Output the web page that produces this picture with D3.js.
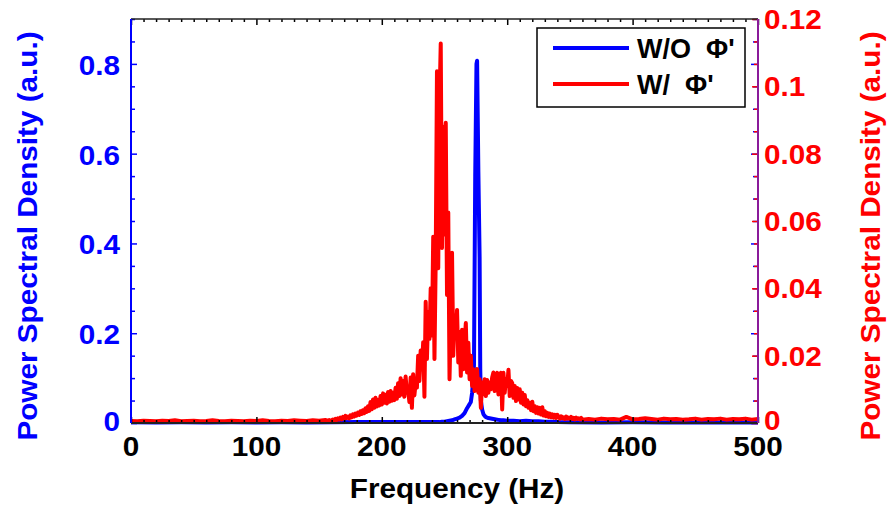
<!DOCTYPE html>
<html><head><meta charset="utf-8">
<script src="https://cdn.jsdelivr.net/npm/d3@7"></script>
<style>
html,body{margin:0;padding:0;background:#fff;}
text{font-family:"Liberation Sans",Arial,sans-serif;font-weight:bold;}
</style></head>
<body><svg id="c" width="887" height="506"></svg>
<script>
// ---------------- data ----------------
const xTicks = [0,100,200,300,400,500];
const leftTicks = [0,0.2,0.4,0.6,0.8];
const rightTicks = [0,0.02,0.04,0.06,0.08,0.1,0.12];
const rightTickLabels = ["0","0.02","0.04","0.06","0.08","0.1","0.12"];
const leftTickLabels = ["0","0.2","0.4","0.6","0.8"];

// W/ Phi' (red, right axis)
const redBaseFreq = [0,5,10,15,20,25,30,35,40,45,50,55,60,65,70,75,80,85,90,95,100,105,110,115,120,125,130,135,140,145,150,155];
const redBaseVal  = [0.0006,0.0005,0.0007,0.0006,0.0005,0.0007,0.0006,0.0008,0.0005,0.0006,0.0007,0.0005,0.0006,0.0008,0.0006,0.0005,0.0007,0.0006,0.0005,0.0007,0.0006,0.0008,0.0006,0.0005,0.0007,0.0006,0.0008,0.0007,0.0006,0.0008,0.0007,0.0009];
const redCoreStart = 156; // 1 Hz steps
const redCoreVal = [
 0.0008,0.0006,0.0009,0.0007,
 0.0008,0.0010,0.0007,0.0012,0.0009,0.0014,0.0010,0.0016,0.0011,0.0018,
 0.0013,0.0021,0.0015,0.0019,0.0014,0.0023,0.0017,0.0026,0.0019,0.0028,
 0.0022,0.0031,0.0024,0.0035,0.0027,0.0038,0.0029,0.0044,0.0033,0.0050,
 0.0036,0.0062,0.0041,0.0070,0.0045,0.0075,0.0049,0.0068,0.0052,0.0080,
 0.0055,0.0088,0.0060,0.0084,0.0058,0.0092,0.0063,0.0095,0.0066,0.0090,
 0.0068,0.0105,0.0072,0.0118,0.0080,0.0133,0.0085,0.0125,0.0078,0.0138,
 0.0090,0.0098,0.0062,0.0135,0.0045,0.0145,0.0082,0.0120,0.0105,0.0200,
 0.0125,0.0215,0.0160,0.0240,0.0078,0.0360,0.0190,0.0330,0.0250,0.0400,
 0.0260,0.0553,0.0190,0.0485,0.1045,0.0460,0.0950,0.1127,0.0520,0.0880,
 0.0560,0.0892,0.0380,0.0625,0.0130,0.0300,0.0506,0.0200,0.0320,0.0270,
 0.0336,0.0180,0.0270,0.0140,0.0277,0.0160,0.0240,0.0297,0.0150,0.0238,
 0.0130,0.0200,0.0110,0.0160,0.0095,0.0150,0.0160,0.0090,0.0130,0.0045,
 0.0120,0.0085,0.0130,0.0080,0.0128,0.0090,0.0120,0.0100,0.0135,0.0150,
 0.0095,0.0140,0.0149,0.0085,0.0140,0.0149,0.0040,0.0149,0.0090,0.0130,
 0.0110,0.0158,0.0080,0.0125,0.0119,0.0075,0.0110,0.0065,0.0104,0.0070,
 0.0100,0.0060,0.0090,0.0055,0.0083,0.0050,0.0068,0.0045,0.0060,0.0038,
 0.0063,0.0035,0.0050,0.0030,0.0047,0.0028,0.0045,0.0025,0.0047,0.0022,
 0.0035,0.0020,0.0030,0.0018,0.0028,0.0017,0.0026,0.0016,0.0024,0.0015,
 0.0024,0.0018,0.0013,0.0020,0.0014,0.0017,0.0012,0.0019,0.0013,0.0016,
 0.0012,0.0018,0.0012,0.0015,0.0011,0.0016,0.0012,0.0014,0.0011,0.0015,0.0010
];
const redTailFreq = [365,370,375,380,385,390,395,400,405,410,415,420,425,430,435,440,445,450,455,460,465,470,475,480,485,490,495,500];
const redTailVal  = [0.0012,0.0010,0.0013,0.0011,0.0012,0.0010,0.0018,0.0011,0.0012,0.0014,0.0012,0.0010,0.0013,0.0011,0.0012,0.0010,0.0011,0.0013,0.0010,0.0012,0.0011,0.0013,0.0010,0.0012,0.0011,0.0013,0.0010,0.0012];

// W/O Phi' (blue, left axis)
const blueFreq = [0,20,40,60,80,100,120,140,160,180,200,220,240,246,248,250,252,254,256,258,260,262,264,266,268,270,271,272,273,273.5,274.5,275.5,276,277,278,278.5,279,280,281,282,283,285,287,289,291,293,295,297,300,305,310,315,320,325,330,335,340,350,375,400,425,450,475,500];
const blueVal  = [0.0015,0.0012,0.0015,0.0013,0.0014,0.0012,0.0015,0.0013,0.0018,0.0020,0.0022,0.0025,0.0025,0.002,0.003,0.003,0.004,0.005,0.006,0.008,0.010,0.012,0.016,0.022,0.033,0.042,0.047,0.067,0.100,0.13,0.55,0.80,0.807,0.56,0.37,0.12,0.05,0.030,0.020,0.016,0.013,0.011,0.010,0.009,0.008,0.007,0.006,0.006,0.005,0.005,0.004,0.005,0.004,0.004,0.003,0.003,0.002,0.0015,0.0012,0.0014,0.0012,0.0013,0.0012,0.0013];

const legendLabels = ["W/O  \u03A6'","W/  \u03A6'"];

// ---------------- build series ----------------
const redData = [];
redBaseFreq.forEach((f,i)=>redData.push([f,redBaseVal[i]]));
redCoreVal.forEach((v,i)=>redData.push([redCoreStart+i,v]));
redTailFreq.forEach((f,i)=>redData.push([f,redTailVal[i]]));
const blueData = blueFreq.map((f,i)=>[f,blueVal[i]]);

// ---------------- layout ----------------
const L=131, R=758, T=19, B=423;
const svg = d3.select("#c");
const x = d3.scaleLinear().domain([0,500]).range([L,R]);
const yL = d3.scaleLinear().domain([0,0.9]).range([B,T]);
const yR = d3.scaleLinear().domain([0,0.12]).range([B,T]);
const BLUE="#0000ff", RED="#ff0000", PURPLE="#8a1a9a";
const FS = 27, SX = 1.1;

// lines
svg.append("path").datum(blueData)
  .attr("d", d3.line().x(d=>x(d[0])).y(d=>yL(d[1])))
  .attr("fill","none").attr("stroke",BLUE).attr("stroke-width",4).attr("stroke-linejoin","round");
svg.append("path").datum(redData)
  .attr("d", d3.line().x(d=>x(d[0])).y(d=>yR(d[1])))
  .attr("fill","none").attr("stroke",RED).attr("stroke-width",4).attr("stroke-linejoin","round");

// ticks: bottom & top (every 10 Hz minor, 100 major)
const xMinor = d3.range(0,501,10);
const gB = svg.append("g").attr("transform",`translate(0,${B})`)
  .call(d3.axisBottom(x).tickValues(xMinor).tickSize(-3).tickFormat(""));
const gT = svg.append("g").attr("transform",`translate(0,${T})`)
  .call(d3.axisTop(x).tickValues(xMinor).tickSize(-3).tickFormat(""));
[gB,gT].forEach(g=>{g.select(".domain").remove(); g.selectAll("line").attr("stroke","#000").attr("stroke-width",1.5)
  .attr("y2",d=>(d%100===0? (g===gB?-6:6):(g===gB?-3:3)));});

// left axis (blue) ticks every 0.05
const lMinor = d3.range(0,0.9001,0.05);
const isMajL = d => Math.abs(d/0.2-Math.round(d/0.2))<1e-6;
const gL = svg.append("g").attr("transform",`translate(${L},0)`)
  .call(d3.axisLeft(yL).tickValues(lMinor).tickSize(-4).tickFormat(""));
gL.select(".domain").remove();
gL.selectAll("line").attr("stroke",BLUE).attr("stroke-width",1.5).attr("x2",d=>isMajL(d)?6:4);
// mirrored blue ticks on right side
const gLR = svg.append("g").attr("transform",`translate(${R},0)`)
  .call(d3.axisRight(yL).tickValues(lMinor).tickSize(-4).tickFormat(""));
gLR.select(".domain").remove();
gLR.selectAll("line").attr("stroke",BLUE).attr("stroke-width",1.5).attr("x2",d=>isMajL(d)?-7:-5);
// right axis red ticks
const rMinor = d3.range(0,19).map(i=>i*0.02/3);
const gR = svg.append("g").attr("transform",`translate(${R},0)`)
  .call(d3.axisRight(yR).tickValues(rMinor).tickSize(-4).tickFormat(""));
gR.select(".domain").remove();
gR.selectAll("line").attr("stroke",RED).attr("stroke-width",1.5).attr("x2",(d,i)=> i%3===0?-6:-4);

// frame
svg.append("line").attr("x1",L).attr("x2",R).attr("y1",T).attr("y2",T).attr("stroke","#222").attr("stroke-width",1.5);
svg.append("line").attr("x1",L).attr("x2",R).attr("y1",B).attr("y2",B).attr("stroke","#222").attr("stroke-width",2);
svg.append("line").attr("x1",L).attr("x2",L).attr("y1",T).attr("y2",B).attr("stroke",BLUE).attr("stroke-width",2);
svg.append("line").attr("x1",R).attr("x2",R).attr("y1",T).attr("y2",B).attr("stroke",PURPLE).attr("stroke-width",2);

// tick labels (slightly widened glyphs like the reference)
svg.append("g").selectAll("text").data(xTicks).join("text")
  .attr("transform",d=>`translate(${x(d)},${B+33}) scale(${SX},1)`).attr("text-anchor","middle")
  .attr("font-size",FS).attr("fill","#000").text(d=>d);
svg.append("g").selectAll("text").data(leftTicks).join("text")
  .attr("transform",d=>`translate(${L-11},${yL(d)+(d===0?8:11)}) scale(${SX},1)`).attr("text-anchor","end")
  .attr("font-size",FS).attr("fill",BLUE).text((d,i)=>leftTickLabels[i]);
svg.append("g").selectAll("text").data(rightTicks).join("text")
  .attr("transform",d=>`translate(${R+6},${yR(d)+(d===0?7:10)}) scale(${SX},1)`).attr("text-anchor","start")
  .attr("font-size",FS).attr("fill",RED).text((d,i)=>rightTickLabels[i]);

// axis titles
svg.append("text").attr("transform",`translate(457,498) scale(${SX},1)`).attr("text-anchor","middle")
  .attr("font-size",FS).attr("fill","#000").text("Frequency (Hz)");
svg.append("text").attr("transform",`translate(37,236) rotate(-90) scale(${SX},1)`).attr("text-anchor","middle")
  .attr("font-size",FS).attr("fill",BLUE).text("Power Spectral Density (a.u.)");
svg.append("text").attr("transform",`translate(880,236) rotate(-90) scale(${SX},1)`).attr("text-anchor","middle")
  .attr("font-size",FS).attr("fill",RED).text("Power Spectral Density (a.u.)");

// legend
const lg = svg.append("g");
lg.append("rect").attr("x",537).attr("y",28).attr("width",208).attr("height",79)
  .attr("fill","#fff").attr("stroke","#000").attr("stroke-width",1.5);
[BLUE,RED].forEach((c,i)=>{
  const yy = [48,84][i];
  lg.append("line").attr("x1",553).attr("x2",629).attr("y1",yy).attr("y2",yy).attr("stroke",c).attr("stroke-width",4);
  lg.append("text").attr("x",637).attr("y",yy+10).attr("font-size",FS).attr("fill","#000")
    .attr("xml:space","preserve").style("white-space","pre").text(legendLabels[i]);
});
</script></body></html>
